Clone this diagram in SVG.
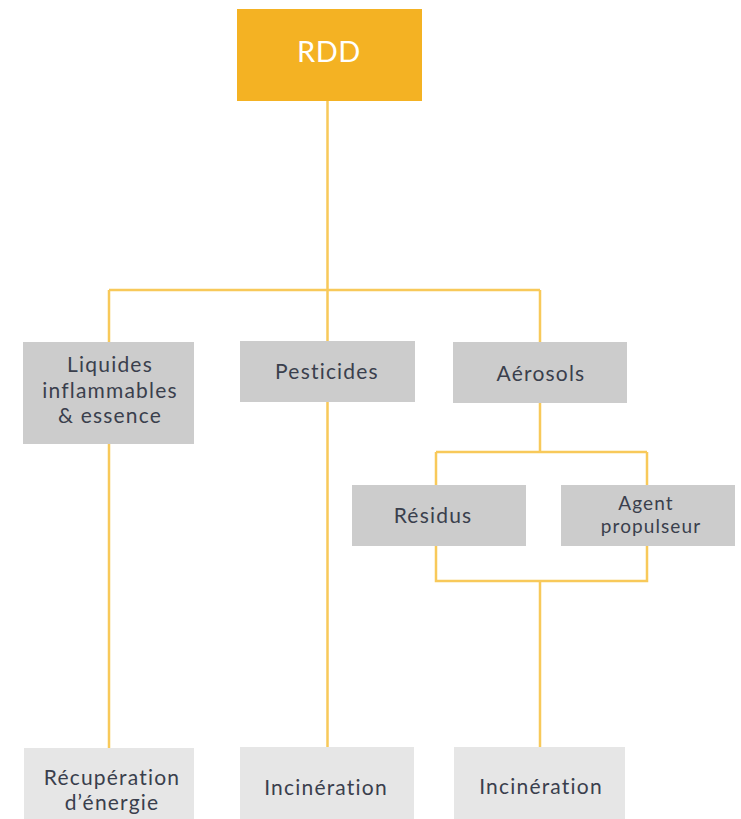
<svg xmlns="http://www.w3.org/2000/svg" width="741" height="819" viewBox="0 0 741 819">
<style>
.c{fill:none;stroke:#F8C95A;stroke-width:2.5}
.g{fill:#CCCCCC}
.l{fill:#E6E6E6}
.t{font-family:Lato,"Open Sans","Liberation Sans",sans-serif;font-size:21px;letter-spacing:1.2px;fill:#3A3F4D;text-anchor:middle}
.s{font-size:19px;letter-spacing:1.1px}
</style>
<rect width="741" height="819" fill="#FFFFFF"/>
<g id="connectors">
<path class="c" d="M327.5 101V290M109 290H540M109 290V342M327.5 290V341M540 290V342"/>
<path class="c" d="M540 403V452M436 452H647M436 452V485M647 452V485"/>
<path class="c" d="M436 546V581H647V546M540 581V747"/>
<path class="c" d="M109 444V748M327.5 402V747"/>
</g>
<g id="rdd"><rect x="237" y="9" width="185" height="92" fill="#F4B223"/><text x="329" y="62" style="font-family:Lato,'Open Sans','Liberation Sans',sans-serif;font-size:29px;letter-spacing:0.5px;fill:#FFFFFF;text-anchor:middle">RDD</text></g>
<g id="liquides"><rect class="g" x="23" y="342" width="171" height="102"/><text class="t" x="110" y="372">Liquides</text><text class="t" x="110" y="398">inflammables</text><text class="t" x="110" y="423">&amp; essence</text></g>
<g id="pesticides"><rect class="g" x="240" y="341" width="175" height="61"/><text class="t" x="327" y="379">Pesticides</text></g>
<g id="aerosols"><rect class="g" x="453" y="342" width="174" height="61"/><text class="t" x="541" y="381">Aérosols</text></g>
<g id="residus"><rect class="g" x="352" y="485" width="174" height="61"/><text class="t" x="433" y="523">Résidus</text></g>
<g id="agent"><rect class="g" x="561" y="485" width="174" height="61"/><text class="t s" x="646" y="510">Agent</text><text class="t s" x="651" y="533">propulseur</text></g>
<g id="recuperation"><rect class="l" x="24" y="748" width="170" height="71"/><text class="t" x="112" y="785">Récupération</text><text class="t" x="112" y="810">d’énergie</text></g>
<g id="incineration1"><rect class="l" x="240" y="747" width="174" height="72"/><text class="t" x="326" y="795">Incinération</text></g>
<g id="incineration2"><rect class="l" x="454" y="747" width="171" height="72"/><text class="t" x="541" y="794">Incinération</text></g>
</svg>
